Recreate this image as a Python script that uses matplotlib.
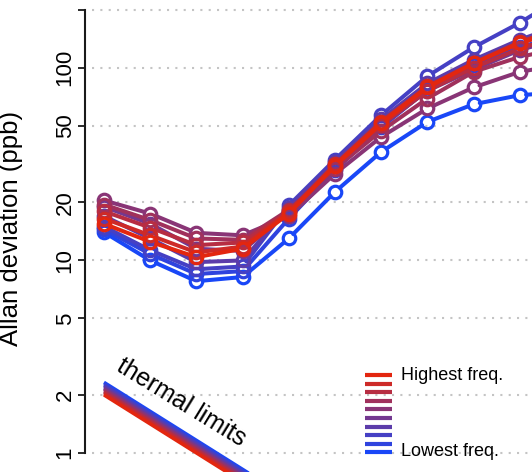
import numpy as np
import matplotlib

matplotlib.use("Agg", force=True)

import matplotlib.pyplot as plt
from matplotlib.collections import LineCollection
from matplotlib.colors import LinearSegmentedColormap

plt.rcParams["font.family"] = ["Liberation Sans", "DejaVu Sans"]

# averaging times (s); the last point runs off the right edge
tau = [1, 2, 4, 8, 16, 32, 64, 128, 256, 512, 1024]

# Allan deviation (ppb), highest frequency first
dev_f1 = [15.5, 12.5, 10.4, 11.5, 17.5, 30.9, 51.4, 79.1, 105.4, 134.0, 160.0]
dev_f2 = [16.5, 13.5, 11.0, 11.8, 17.8, 31.5, 52.5, 80.0, 106.0, 136.0, 165.0]
dev_f3 = [18.0, 14.8, 12.0, 12.4, 18.0, 31.0, 50.5, 76.0, 100.0, 126.0, 150.0]
dev_f4 = [19.5, 16.2, 13.0, 12.8, 18.3, 30.0, 47.0, 69.3, 95.3, 114.0, 128.0]
dev_f5 = [20.5, 17.5, 13.9, 13.5, 17.0, 28.2, 43.8, 61.5, 79.1, 95.3, 105.0]
dev_f6 = [19.0, 15.5, 11.5, 11.2, 18.0, 31.5, 50.0, 76.0, 98.0, 123.6, 145.0]
dev_f7 = [17.0, 13.0, 9.8, 10.0, 18.8, 32.5, 54.0, 83.0, 110.0, 140.0, 170.0]
dev_f8 = [15.0, 11.3, 9.0, 9.3, 19.3, 33.4, 56.8, 90.5, 127.7, 171.4, 240.0]
dev_f9 = [14.5, 10.8, 8.5, 8.8, 16.5, 29.5, 49.0, 77.0, 103.0, 128.0, 150.0]
dev_f10 = [14.0, 10.0, 7.8, 8.2, 13.0, 22.7, 36.6, 52.4, 64.7, 72.1, 75.0]
all_devs = [dev_f1, dev_f2, dev_f3, dev_f4, dev_f5,
            dev_f6, dev_f7, dev_f8, dev_f9, dev_f10]

# thermal-noise floor at tau = 1 s for each frequency (falls as tau^-1/2)
thermal_1s = [2.00, 2.03, 2.07, 2.10, 2.14, 2.17, 2.21, 2.25, 2.29, 2.33]
thermal_tau = [1, 32]

y_ticks = [1, 2, 5, 10, 20, 50, 100, 200]
y_tick_labels = ["1", "2", "5", "10", "20", "50", "100", ""]

ramp = LinearSegmentedColormap.from_list("freq", ["#E3260F", "#1947F7"])
colors = [ramp(i / 9) for i in range(10)]

DPI = 100
fig = plt.figure(figsize=(5.32, 4.72), dpi=DPI)
ax = fig.add_axes([92 / 532, 0.0, 440 / 532, 1.0])
ax.set_xscale("log", base=2)
ax.set_yscale("log")
ax.set_xlim(2 ** -0.26, 2 ** 9.264)
ax.set_ylim(0.797, 225)

for v in y_ticks:
    ax.axhline(v, color="#c4c4c4", lw=1.5, ls=(0, (1, 3)), zorder=0)

ms_pt = 9.0
gap_px = ms_pt * DPI / 72 / 2


def gapped(xs, ys):
    """Segments between points, trimmed back so they stop at the circles."""
    pts = ax.transData.transform(np.column_stack([xs, ys]))
    inv = ax.transData.inverted()
    segs = []
    for p, q in zip(pts[:-1], pts[1:]):
        d = q - p
        u = d / np.hypot(*d)
        segs.append(inv.transform([p + u * gap_px, q - u * gap_px]))
    return segs


# lowest frequency first so the red traces end up on top
for i in reversed(range(10)):
    c = colors[i]
    lc = LineCollection(gapped(tau, all_devs[i]), colors=[c], linewidths=2.9,
                        capstyle="round", zorder=3 + (9 - i))
    ax.add_collection(lc)
    ax.plot(tau, all_devs[i], ls="none", marker="o", ms=ms_pt, mew=2.3,
            mfc="none", mec=c, zorder=3 + (9 - i))

# thermal limit band
for i in reversed(range(10)):
    t = np.array(thermal_tau, dtype=float)
    ax.plot(t, thermal_1s[i] / np.sqrt(t), color=colors[i], lw=2.4,
            solid_capstyle="butt", zorder=2)
ax.text(3.2, 1.83, "thermal limits", rotation=-31.5, fontsize=18,
        ha="center", va="center", rotation_mode="anchor")

# frequency key
for i in range(10):
    yk = 1 - (375 + 8.6 * i) / 472
    ax.plot([(365 - 92) / 440, (392 - 92) / 440], [yk, yk], color=colors[i],
            lw=3.0, solid_capstyle="butt", transform=ax.transAxes)
ax.text((401 - 92) / 440, 1 - 376 / 472, "Highest freq.", fontsize=13,
        va="center", ha="left", transform=ax.transAxes)
ax.text((401 - 92) / 440, 1 - 452 / 472, "Lowest freq.", fontsize=13,
        va="center", ha="left", transform=ax.transAxes)

# R-style detached y axis
for side in ("top", "right", "bottom"):
    ax.spines[side].set_visible(False)
ax.spines["left"].set_position(("outward", 4.7))
ax.spines["left"].set_bounds(1, 200)
ax.spines["left"].set_linewidth(1.5)
ax.spines["left"].set_color("#1a1a1a")
ax.set_yticks(y_ticks)
ax.set_yticklabels(y_tick_labels, rotation=90, va="center", fontsize=16)
ax.yaxis.set_minor_locator(matplotlib.ticker.NullLocator())
ax.tick_params(axis="y", length=5, width=1.3, color="#1a1a1a", pad=2)
ax.set_xticks([])
ax.xaxis.set_minor_locator(matplotlib.ticker.NullLocator())
ax.set_ylabel("Allan deviation (ppb)", fontsize=18.5)
ax.yaxis.set_label_coords((23 - 92) / 440, 1 - 228 / 472)

fig.savefig("out.png", dpi=DPI)
